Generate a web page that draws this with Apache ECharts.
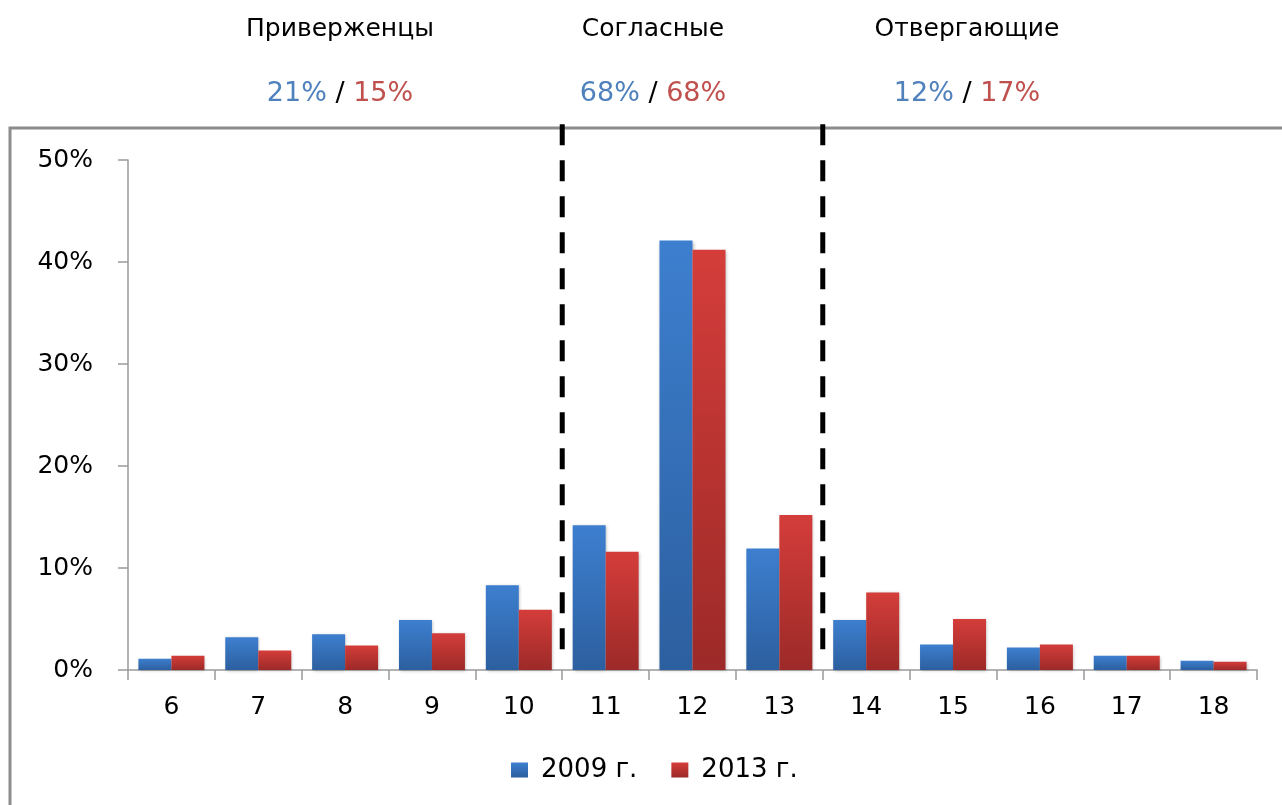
<!DOCTYPE html>
<html><head><meta charset="utf-8">
<script src="https://cdn.jsdelivr.net/npm/echarts@6/dist/echarts.min.js"></script>
<style>html,body{margin:0;padding:0;background:#fff}#c{width:1282px;height:805px}</style>
</head><body><div id="c"></div>
<script>
const categories = ['6','7','8','9','10','11','12','13','14','15','16','17','18'];
const values2009 = [1.1, 3.2, 3.5, 4.9, 8.3, 14.2, 42.1, 11.9, 4.9, 2.5, 2.2, 1.4, 0.9];
const values2013 = [1.4, 1.9, 2.4, 3.6, 5.9, 11.6, 41.2, 15.2, 7.6, 5.0, 2.5, 1.4, 0.8];
const seriesNames = ['2009 г.', '2013 г.'];
const groupNames = ['Приверженцы', 'Согласные', 'Отвергающие'];
const groupShare2009 = ['21%', '68%', '12%'];
const groupShare2013 = ['15%', '68%', '17%'];
const dividerAfter = ['10', '13'];
const dividerSpan = [53.5, 2];
const yTicks = [0, 10, 20, 30, 40, 50];

const blue = '#4F81BD', red = '#C0504D';
const groupCenters = [335, 648, 962];
const titles = [];
groupNames.forEach((g, i) => {
  titles.push({text: g, left: groupCenters[i], top: 12, textAlign: 'center',
    textStyle: {fontFamily: 'DejaVu Sans', fontWeight: 'normal', fontSize: 25, color: '#000'}});
  titles.push({text: '{b|' + groupShare2009[i] + '} / {r|' + groupShare2013[i] + '}', left: groupCenters[i], top: 75, textAlign: 'center',
    textStyle: {fontFamily: 'DejaVu Sans', fontWeight: 'normal', fontSize: 27, color: '#000',
      rich: {b: {color: blue, fontSize: 27, fontFamily: 'DejaVu Sans'}, r: {color: red, fontSize: 27, fontFamily: 'DejaVu Sans'}}}});
});

function grad(top, bottom) {
  return {type: 'linear', x: 0, y: 0, x2: 0, y2: 1, colorStops: [{offset: 0, color: top}, {offset: 1, color: bottom}]};
}

const dividerSeries = dividerAfter.map(c => ({
  type: 'line', xAxisIndex: 1, yAxisIndex: 0, silent: true, clip: false, symbol: 'none',
  lineStyle: {color: '#000', width: 5, type: [21, 15]},
  data: dividerSpan.map(v => [categories.indexOf(c) + 1, v])
}));

const chart = echarts.init(document.getElementById('c'));
chart.setOption({
  animation: false,
  title: titles,
  graphic: [{type: 'rect', shape: {x: 10, y: 128, width: 1300, height: 700}, style: {fill: 'none', stroke: '#8c8c8c', lineWidth: 3}, z: -1}],
  legend: {
    data: seriesNames, top: 752, left: 506, icon: 'rect', itemWidth: 17, itemHeight: 15, itemGap: 34,
    textStyle: {fontFamily: 'DejaVu Sans', fontSize: 26, color: '#000', padding: [0, 0, 0, 8]}
  },
  grid: {left: 128, right: 25, top: 160, bottom: 135},
  xAxis: [{
    type: 'category', data: categories,
    axisLine: {lineStyle: {color: '#9a9a9a', width: 1.5}},
    axisTick: {show: true, length: 10, lineStyle: {color: '#9a9a9a', width: 1.5}},
    axisLabel: {margin: 25, fontFamily: 'DejaVu Sans', fontSize: 25, color: '#000'}
  }, {
    type: 'value', min: 0, max: categories.length, show: false
  }],
  yAxis: {
    type: 'value', min: yTicks[0], max: yTicks[yTicks.length - 1], interval: yTicks[1] - yTicks[0],
    axisLine: {show: true, lineStyle: {color: '#9a9a9a', width: 1.5}},
    axisTick: {show: true, length: 10, lineStyle: {color: '#9a9a9a', width: 1.5}},
    splitLine: {show: false},
    axisLabel: {margin: 35, fontFamily: 'DejaVu Sans', fontSize: 25, color: '#000', formatter: '{value}%'}
  },
  series: [{
    name: seriesNames[0], type: 'bar', data: values2009, barGap: '0%', barCategoryGap: '24%',
    itemStyle: {color: grad('#3d7fcf', '#2c5f9f'), shadowBlur: 3, shadowColor: 'rgba(0,0,0,0.25)', shadowOffsetX: 1, shadowOffsetY: 1}
  }, {
    name: seriesNames[1], type: 'bar', data: values2013,
    itemStyle: {color: grad('#d43d3a', '#9c2a28'), shadowBlur: 3, shadowColor: 'rgba(0,0,0,0.25)', shadowOffsetX: 1, shadowOffsetY: 1}
  }].concat(dividerSeries)
});
</script></body></html>
